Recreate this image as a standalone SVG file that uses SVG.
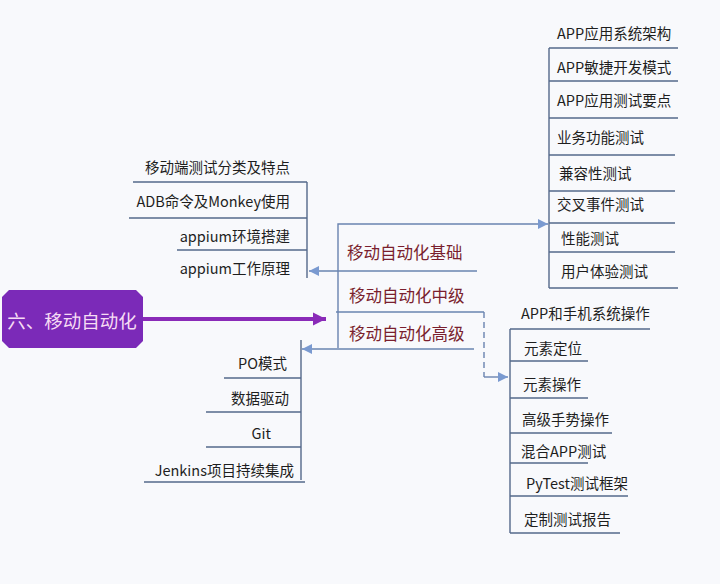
<svg xmlns="http://www.w3.org/2000/svg" width="720" height="584" viewBox="0 0 720 584">
<defs>
<style>
.t{font-family:"Noto Sans CJK SC",sans-serif;font-size:14.5px;fill:#1e1e1e;dominant-baseline:central}
.m{font-family:"Noto Sans CJK SC",sans-serif;font-size:16.5px;fill:#7a1f2e;dominant-baseline:central}
.ln{stroke:#54698a;stroke-width:1.4;fill:none}
.cn{stroke:#6a84b0;stroke-width:1.4;fill:none}
</style>
<marker id="ab" viewBox="0 0 10 10" refX="10" refY="5" markerWidth="10" markerHeight="10" markerUnits="userSpaceOnUse" orient="auto">
<path d="M0,0 L10,5 L0,10 Z" fill="#7a9ad0"/>
</marker>
<marker id="ap" viewBox="0 0 10 10" refX="10" refY="5" markerWidth="13" markerHeight="19" markerUnits="userSpaceOnUse" orient="auto">
<path d="M0,0 L10,5 L0,10 Z" fill="#8a2bb8"/>
</marker>
</defs>
<rect width="720" height="584" fill="#f8f9fc"/>

<g id="connectors">
<path class="cn" d="M338,348 V224 H548" marker-end="url(#ab)"/>
<path class="cn" d="M477,271 H309" marker-end="url(#ab)"/>
<path class="cn" d="M336,312 H484"/>
<path class="cn" d="M484,312 V377" stroke-dasharray="6,4"/>
<path class="cn" d="M484,377 H508" marker-end="url(#ab)"/>
<path class="cn" d="M474,349 H302" marker-end="url(#ab)"/>
<path d="M143,319 H326" stroke="#8a2bb8" stroke-width="4" fill="none" marker-end="url(#ap)"/>
</g>

<g id="root">
<path d="M9,290 H136 L143,297 V341 L136,348 H9 L2,341 V297 Z" fill="#7b2ab8"/>
<text x="72" y="320" text-anchor="middle" style="font-family:'Noto Sans CJK SC',sans-serif;font-size:18.5px;fill:#f6dcf4;dominant-baseline:central">六、移动自动化</text>
</g>

<g id="mid">
<text class="m" x="347" y="252">移动自动化基础</text>
<text class="m" x="349" y="295">移动自动化中级</text>
<text class="m" x="349" y="333">移动自动化高级</text>
</g>

<g id="basic-left">
<path class="ln" d="M307,182 V278"/>
<path class="ln" d="M133,182 H307 M129,218 H307 M177,250 H307"/>
<text class="t" x="290" y="166" text-anchor="end">移动端&#x6D4B;&#x8BD5;分类及特点</text>
<text class="t" x="290" y="200" text-anchor="end">ADB命令及Monkey使用</text>
<text class="t" x="290" y="235" text-anchor="end">appium环境搭建</text>
<text class="t" x="290" y="267" text-anchor="end">appium工作原理</text>
</g>

<g id="basic-right">
<path class="ln" d="M549,48 V288"/>
<path class="ln" d="M549,48 H678 M549,81 H678 M549,118 H678 M549,155 H675 M549,191 H675 M549,223 H675 M549,252 H675 M549,288 H678"/>
<text class="t" x="557" y="32">APP应用系统架构</text>
<text class="t" x="557" y="66">APP敏捷开发模式</text>
<text class="t" x="557" y="99">APP应用&#x6D4B;&#x8BD5;要点</text>
<text class="t" x="557" y="136">业务功能&#x6D4B;&#x8BD5;</text>
<text class="t" x="559" y="172">兼容性&#x6D4B;&#x8BD5;</text>
<text class="t" x="557" y="203">交叉事件&#x6D4B;&#x8BD5;</text>
<text class="t" x="561" y="237">性能&#x6D4B;&#x8BD5;</text>
<text class="t" x="561" y="270">用户体验&#x6D4B;&#x8BD5;</text>
</g>

<g id="mid-right">
<path class="ln" d="M510,329 V533"/>
<path class="ln" d="M510,329 H650 M510,361 H588 M510,398 H588 M510,433 H612 M510,463 H588 M510,496 H628 M510,533 H620"/>
<text class="t" x="521" y="312">APP和手机系统操作</text>
<text class="t" x="524" y="347">元素定位</text>
<text class="t" x="523" y="383">元素操作</text>
<text class="t" x="522" y="418">高级手势操作</text>
<text class="t" x="521" y="450">混合APP&#x6D4B;&#x8BD5;</text>
<text class="t" x="526" y="482">PyTest&#x6D4B;&#x8BD5;框架</text>
<text class="t" x="524" y="518">定制&#x6D4B;&#x8BD5;报告</text>
</g>

<g id="adv-left">
<path class="ln" d="M301,340 V480"/>
<path class="ln" d="M224,378 H301 M206,412 H301 M206,447 H301 M144,482 H305"/>
<text class="t" x="287" y="362" text-anchor="end">PO模式</text>
<text class="t" x="289" y="397" text-anchor="end">数据驱动</text>
<text class="t" x="271" y="432" text-anchor="end">Git</text>
<text class="t" x="294" y="469" text-anchor="end">Jenkins项目持续集成</text>
</g>
</svg>
